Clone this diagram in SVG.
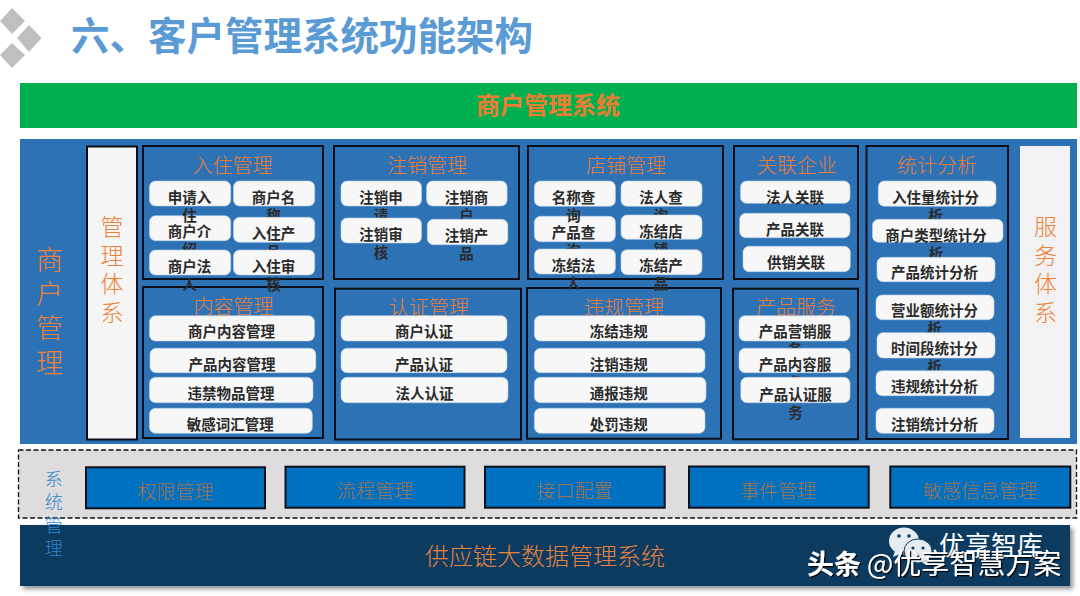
<svg xmlns="http://www.w3.org/2000/svg" width="1080" height="596" viewBox="0 0 1080 596">
<style>
text{font-family:"Noto Sans CJK SC","Noto Sans",sans-serif;text-anchor:middle}
.pill{fill:#F7F7F7;stroke:#BBD3EA;stroke-width:.6;rx:6px}
.box{fill:#2E72B6;stroke:#0A0F1A;stroke-width:2}
.p{font-size:14.5px;font-weight:700;fill:#2B2B2B}
.h{font-size:20px;font-weight:300;fill:#E87D36}
.side{font-weight:300;fill:#EE8138}
.btn{fill:#0070C0;stroke:#0A0F1A;stroke-width:2}
.bt{font-size:19px;font-weight:300;fill:#A4744F}
.dia{fill:#BFBFBF}
.wm{fill:#fff;filter:url(#hard)}
.eye{fill:#0A3A60}
.bub{fill:#E6EBF0}
</style>
<defs>
<filter id="soft" x="-2%" y="-10%" width="104%" height="125%"><feDropShadow dx="3" dy="3" stdDeviation="2" flood-color="#777" flood-opacity=".8"/></filter>
<filter id="hard" x="-5%" y="-10%" width="110%" height="130%"><feDropShadow dx="1.2" dy="1.2" stdDeviation=".5" flood-color="#000"/></filter>
</defs>

<g id="logo">
<polygon class="dia" points="12,8 25,21 12,34 0,21"/>
<polygon class="dia" points="29,25 41.500,38 29,52 17,38"/>
<polygon class="dia" points="12,43 25,55 12,68 0,55"/>
</g>
<text id="title" x="302" y="50" style="font-size:38.500px;font-weight:700;fill:#5B9BD5">六、客户管理系统功能架构</text>

<g id="top-bar">
<rect x="20" y="83" width="1057" height="45" fill="#00B050"/>
<text x="548" y="114" style="font-size:24px;font-weight:700;fill:#ED7D31">商户管理系统</text>
</g>

<g id="merchant-panel">
<rect x="20" y="139" width="1057" height="305" fill="#2E72B6"/>
<text class="side" style="font-size:27px" x="49.500" y="270">商</text>
<text class="side" style="font-size:27px" x="49.500" y="304">户</text>
<text class="side" style="font-size:27px" x="49.500" y="338">管</text>
<text class="side" style="font-size:27px" x="49.500" y="373">理</text>
</g>

<g id="mgmt-system">
<rect x="87" y="146.500" width="50" height="293" fill="#F5F5F5" stroke="#0A0F1A" stroke-width="2"/>
<text class="side" style="font-size:23px" x="112" y="235">管</text>
<text class="side" style="font-size:23px" x="112" y="264">理</text>
<text class="side" style="font-size:23px" x="112" y="292">体</text>
<text class="side" style="font-size:23px" x="112" y="321">系</text>
</g>

<g id="service-system">
<rect x="1020" y="146" width="50" height="292" fill="#F2F2F2"/>
<text class="side" style="font-size:23px" x="1045.500" y="235">服</text>
<text class="side" style="font-size:23px" x="1045.500" y="264">务</text>
<text class="side" style="font-size:23px" x="1045.500" y="292">体</text>
<text class="side" style="font-size:23px" x="1045.500" y="321">系</text>
</g>

<g id="content-mgmt">
<rect class="box" x="143" y="287" width="180" height="151"/>
<text class="h" x="233.500" y="313.500">内容管理</text>
<rect class="pill" x="149.500" y="315.700" width="165" height="25.300"/><text class="p" x="231.500" y="337">商户内容管理</text>
<rect class="pill" x="150" y="348.300" width="165.800" height="24.400"/><text class="p" x="232" y="369.500">产品内容管理</text>
<rect class="pill" x="149.500" y="377.300" width="163.500" height="25.400"/><text class="p" x="231" y="399">违禁物品管理</text>
<rect class="pill" x="149.500" y="408.300" width="162.800" height="25"/><text class="p" x="230.300" y="429.500">敏感词汇管理</text>
</g>

<g id="onboarding-mgmt">
<rect class="box" x="143" y="146" width="180" height="133"/>
<text class="h" x="232.500" y="173">入住管理</text>
<rect class="pill" x="149.500" y="215.700" width="81.200" height="25"/><text class="p" x="189.500" y="237">商户介<tspan x="189.500" dy="18.300">绍</tspan></text>
<rect class="pill" x="149.500" y="181" width="81.200" height="25"/><text class="p" x="189.500" y="202.800">申请入<tspan x="189.500" dy="18.300">住</tspan></text>
<rect class="pill" x="149.500" y="250" width="81.200" height="25"/><text class="p" x="189.500" y="271.500">商户法<tspan x="189.500" dy="18.300">人</tspan></text>
<rect class="pill" x="233.500" y="181" width="81.200" height="25"/><text class="p" x="273.500" y="202.800">商户名<tspan x="273.500" dy="18.300">称</tspan></text>
<rect class="pill" x="233.500" y="217.300" width="81.200" height="25"/><text class="p" x="273.500" y="238.500">入住产<tspan x="273.500" dy="18.300">品</tspan></text>
<rect class="pill" x="233.500" y="250" width="81.200" height="25"/><text class="p" x="273.500" y="271.500">入住审<tspan x="273.500" dy="18.300">核</tspan></text>
</g>

<g id="cancel-mgmt">
<rect class="box" x="334" y="146" width="185" height="133"/>
<text class="h" x="427" y="173">注销管理</text>
<rect class="pill" x="341" y="181" width="80.500" height="25"/><text class="p" x="381" y="202.800">注销申<tspan x="381" dy="18.300">请</tspan></text>
<rect class="pill" x="426.600" y="181" width="80.500" height="25"/><text class="p" x="466.600" y="202.800">注销商<tspan x="466.600" dy="18.300">户</tspan></text>
<rect class="pill" x="341" y="218" width="80.500" height="25"/><text class="p" x="381" y="239.500">注销审<tspan x="381" dy="18.300">核</tspan></text>
<rect class="pill" x="427.300" y="219.300" width="80.500" height="25.400"/><text class="p" x="466.600" y="240.800">注销产<tspan x="466.600" dy="18.300">品</tspan></text>
</g>

<g id="auth-mgmt">
<rect class="box" x="335" y="288.700" width="186" height="150.800"/>
<text class="h" x="429" y="314.500">认证管理</text>
<rect class="pill" x="341" y="315.700" width="166" height="25.300"/><text class="p" x="424" y="337">商户认证</text>
<rect class="pill" x="341" y="348.300" width="166" height="24.400"/><text class="p" x="424" y="369.500">产品认证</text>
<rect class="pill" x="341" y="377.300" width="167" height="25.400"/><text class="p" x="424.500" y="399">法人认证</text>
</g>

<g id="violation-mgmt">
<rect class="box" x="527" y="288" width="194" height="150.700"/>
<text class="h" x="624" y="314.500">违规管理</text>
<rect class="pill" x="534.400" y="315.700" width="170.600" height="25.300"/><text class="p" x="618.700" y="337">冻结违规</text>
<rect class="pill" x="534.400" y="348.300" width="170.600" height="24.400"/><text class="p" x="618.700" y="369.500">注销违规</text>
<rect class="pill" x="534.400" y="377.300" width="171.600" height="25.400"/><text class="p" x="618.700" y="399">通报违规</text>
<rect class="pill" x="534.400" y="408.300" width="170.600" height="25"/><text class="p" x="618.700" y="429.500">处罚违规</text>
</g>

<g id="store-mgmt">
<rect class="box" x="528" y="146" width="195" height="133"/>
<text class="h" x="626" y="173">店铺管理</text>
<rect class="pill" x="534.400" y="216.300" width="81" height="25.400"/><text class="p" x="573.500" y="237.500">产品查<tspan x="573.500" dy="18.300">询</tspan></text>
<rect class="pill" x="534.400" y="181" width="81" height="25.300"/><text class="p" x="573.500" y="202.800">名称查<tspan x="573.500" dy="18.300">询</tspan></text>
<rect class="pill" x="534.400" y="249" width="81" height="25"/><text class="p" x="573.500" y="270.500">冻结法<tspan x="573.500" dy="18.300">人</tspan></text>
<rect class="pill" x="621" y="181" width="81" height="25.300"/><text class="p" x="661" y="202.800">法人查<tspan x="661" dy="18.300">询</tspan></text>
<rect class="pill" x="621" y="215" width="81" height="24.300"/><text class="p" x="661" y="236.500">冻结店<tspan x="661" dy="18.300">铺</tspan></text>
<rect class="pill" x="621" y="249.700" width="81" height="25"/><text class="p" x="661" y="271">冻结产<tspan x="661" dy="18.300">品</tspan></text>
</g>

<g id="related-biz">
<rect class="box" x="734" y="146" width="124" height="133"/>
<text class="h" x="797" y="173">关联企业</text>
<rect class="pill" x="740.500" y="181" width="109.500" height="22.300"/><text class="p" x="795" y="202.500">法人关联</text>
<rect class="pill" x="739.700" y="213.300" width="110.300" height="24.400"/><text class="p" x="795" y="234.500">产品关联</text>
<rect class="pill" x="743" y="246.300" width="107.300" height="25.400"/><text class="p" x="796" y="267.500">供销关联</text>
</g>

<g id="product-service">
<rect class="box" x="733" y="288.700" width="125" height="150.600"/>
<text class="h" x="796" y="314.500">产品服务</text>
<rect class="pill" x="739" y="315.700" width="111" height="25.300"/><text class="p" x="795" y="337">产品营销服<tspan x="795" dy="18.300">务</tspan></text>
<rect class="pill" x="739" y="348.300" width="111" height="24.400"/><text class="p" x="795" y="369.500">产品内容服<tspan x="795" dy="18.300">务</tspan></text>
<rect class="pill" x="740.800" y="377.300" width="109.200" height="25.400"/><text class="p" x="795.500" y="399.500">产品认证服<tspan x="795.500" dy="18.300">务</tspan></text>
</g>

<g id="stats">
<rect class="box" x="866.500" y="146" width="141.500" height="293"/>
<text class="h" x="937" y="173">统计分析</text>
<rect class="pill" x="878.300" y="181" width="117.700" height="25.300"/><text class="p" x="935.500" y="202.800">入住量统计分<tspan x="935.500" dy="18.300">析</tspan></text>
<rect class="pill" x="872.500" y="219.300" width="130.500" height="23"/><text class="p" x="936" y="240.500">商户类型统计分<tspan x="936" dy="18.300">析</tspan></text>
<rect class="pill" x="877" y="257.300" width="118" height="24.400"/><text class="p" x="934.500" y="278">产品统计分析</text>
<rect class="pill" x="876" y="295" width="118" height="24.700"/><text class="p" x="934.500" y="316">营业额统计分<tspan x="934.500" dy="18.300">析</tspan></text>
<rect class="pill" x="877" y="332.700" width="118" height="25.300"/><text class="p" x="934.500" y="353.500">时间段统计分<tspan x="934.500" dy="18.300">析</tspan></text>
<rect class="pill" x="876" y="370.700" width="118" height="25"/><text class="p" x="934.500" y="391.500">违规统计分析</text>
<rect class="pill" x="876" y="408.300" width="118" height="25"/><text class="p" x="934.500" y="429.500">注销统计分析</text>
</g>

<g id="data-bar">
<rect x="20" y="525" width="1050" height="61" fill="#0A3A60" filter="url(#soft)"/>
<text x="545" y="565" style="font-size:24px;font-weight:300;fill:#E5813E">供应链大数据管理系统</text>
</g>

<g id="system-mgmt">
<rect x="18.500" y="450" width="1058" height="68" fill="#DEDCDD" stroke="#111" stroke-width="1.300" stroke-dasharray="5 2.500"/>
<g style="font-size:18px;font-weight:300;fill:#2A86CC">
<text x="53.700" y="486">系</text>
<text x="53.700" y="509">统</text>
<text x="53.700" y="532">管</text>
<text x="53.700" y="555">理</text>
</g>
</g>

<g id="btn-permission"><rect class="btn" x="86" y="467.300" width="179" height="41"/><text class="bt" x="175.600" y="499">权限管理</text></g>
<g id="btn-flow"><rect class="btn" x="285.500" y="466.700" width="179" height="41"/><text class="bt" x="375" y="498">流程管理</text></g>
<g id="btn-api"><rect class="btn" x="485" y="466.700" width="179.700" height="41"/><text class="bt" x="574.500" y="498">接口配置</text></g>
<g id="btn-event"><rect class="btn" x="689" y="466.500" width="179.700" height="41.200"/><text class="bt" x="778" y="498">事件管理</text></g>
<g id="btn-sensitive"><rect class="btn" x="890.300" y="466.500" width="180" height="41.200"/><text class="bt" x="980" y="498">敏感信息管理</text></g>

<g id="watermark">
<ellipse class="bub" cx="904" cy="541" rx="15" ry="13.500"/>
<path class="bub" d="M895 551l-2 6 7-3z"/>
<circle class="eye" cx="899" cy="536" r="1.800"/><circle class="eye" cx="909" cy="536" r="1.800"/>
<ellipse class="bub" cx="918" cy="551" rx="14" ry="12" stroke="#0A3A60" stroke-width="1"/>
<path class="bub" d="M926 560l3 5-7-2z"/>
<circle class="eye" cx="913" cy="548" r="1.600"/><circle class="eye" cx="923" cy="548" r="1.600"/>
<text x="991" y="555" style="font-size:26px;font-weight:400;fill:#fff">优享智库</text>
<text class="wm" x="834" y="574" style="font-size:27px;font-weight:700">头条</text>
<text class="wm" x="964" y="574" style="font-size:28px;font-weight:400">@优享智慧方案</text>
</g>
</svg>
